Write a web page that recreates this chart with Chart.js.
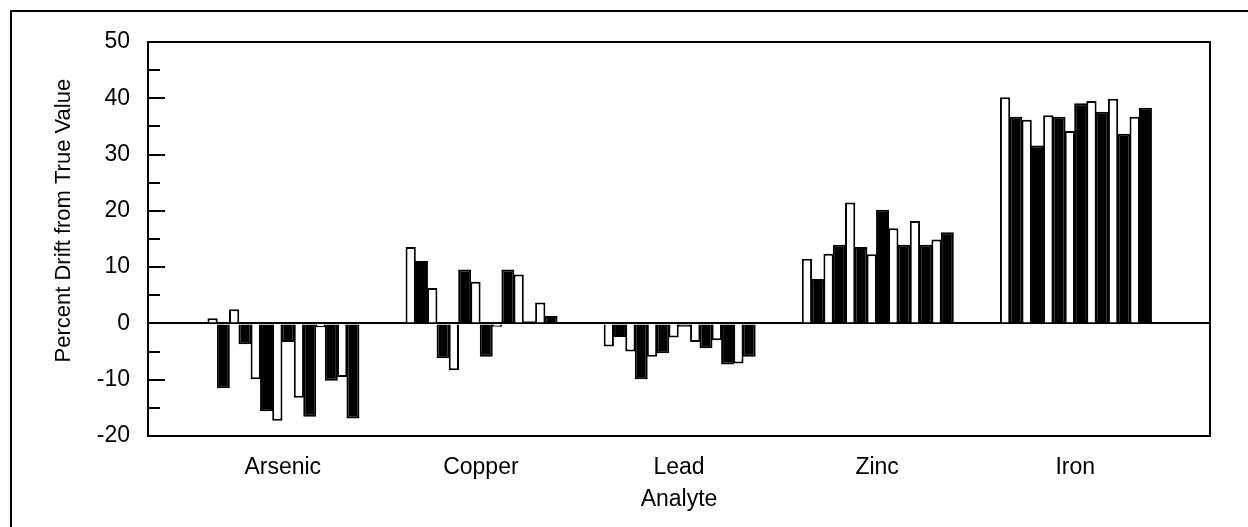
<!DOCTYPE html>
<html>
<head>
<meta charset="utf-8">
<script src="https://cdn.jsdelivr.net/npm/chart.js@4.4.1/dist/chart.umd.min.js"></script>
<style>
  html, body { margin: 0; padding: 0; background: #ffffff; }
  #wrap { position: relative; width: 1248px; height: 527px; overflow: hidden; background: #ffffff; }
  #outer { position: absolute; left: 10px; top: 10px; width: 1400px; height: 700px;
           border-left: 2px solid #000; border-top: 2px solid #000; }
  canvas { position: absolute; left: 0; top: 0; }
</style>
</head>
<body>
<div id="wrap">
  <div id="outer"></div>
  <canvas id="c" width="1248" height="527"></canvas>
</div>
<script>
// ---- data (percent drift, 14 runs per analyte, alternating open/filled bars) ----
const categories = ['Arsenic', 'Copper', 'Lead', 'Zinc', 'Iron'];
const arsenic = [0.9, -11.5, 2.5, -3.7, -9.9, -15.6, -17.3, -3.3, -13.2, -16.6, -0.7, -10.2, -9.5, -16.9];
const copper  = [13.6, 11.1, 6.3, -6.2, -8.3, 9.6, 7.4, -5.9, -0.6, 9.6, 8.7, 0.4, 3.7, 1.3];
const lead    = [-4.1, -2.4, -5.0, -9.9, -5.9, -5.3, -2.5, -0.6, -3.3, -4.4, -3.0, -7.3, -7.1, -5.9];
const zinc    = [11.5, 7.9, 12.4, 14.0, 21.5, 13.6, 12.3, 20.2, 16.9, 14.0, 18.2, 14.0, 14.9, 16.2];
const iron    = [40.2, 36.7, 36.2, 31.6, 37.0, 36.7, 34.2, 39.1, 39.5, 37.6, 39.9, 33.7, 36.7, 38.3];
const yMin = -20, yMax = 50, yStep = 5;
const yTitle = 'Percent Drift from True Value';
const xTitle = 'Analyte';

const groups = [arsenic, copper, lead, zinc, iron];
const runCount = arsenic.length;

Chart.defaults.font.family = '"Liberation Sans", Arial, Helvetica, sans-serif';
Chart.defaults.color = '#000';

const datasets = [];
for (let i = 0; i < runCount; i++) {
  const filled = i % 2 === 1;
  datasets.push({
    label: 'Run ' + (i + 1),
    data: groups.map((g, k) => ({ x: k + 1, y: g[i] })),
    backgroundColor: filled ? '#000000' : '#ffffff',
    borderColor: '#000000',
    borderWidth: 2,
    barPercentage: filled ? 1.2 : 0.95,
    categoryPercentage: 0.763
  });
}

const framePlugin = {
  id: 'framePlugin',
  afterDraw(chart) {
    const { ctx, chartArea: a, scales: { y } } = chart;
    ctx.save();
    ctx.strokeStyle = '#000';
    ctx.lineWidth = 2;
    ctx.strokeRect(a.left, a.top, a.right - a.left, a.bottom - a.top);
    y.ticks.forEach(t => {
      const py = Math.round(y.getPixelForValue(t.value));
      const len = (t.value % 10 === 0) ? 17 : 12;
      ctx.beginPath();
      ctx.moveTo(a.left, py);
      ctx.lineTo(a.left + len, py);
      ctx.stroke();
    });
    ctx.restore();
  }
};

new Chart(document.getElementById('c'), {
  type: 'bar',
  data: { datasets },
  plugins: [framePlugin],
  options: {
    responsive: false,
    animation: false,
    devicePixelRatio: 1,
    layout: { padding: { left: 0, top: 42, right: 38, bottom: 0 } },
    plugins: { legend: { display: false }, tooltip: { enabled: false } },
    scales: {
      x: {
        type: 'linear',
        offset: false,
        min: 0.32,
        max: 5.68,
        afterBuildTicks: s => { s.ticks = categories.map((c, i) => ({ value: i + 1 })); },
        afterFit: s => { s.height = 91; },
        grid: { display: false, drawTicks: false, offset: false },
        border: { display: false },
        ticks: {
          autoSkip: false,
          maxRotation: 0,
          padding: 18,
          font: { size: 23 },
          color: '#000',
          callback: v => categories[Math.round(v) - 1] || ''
        },
        title: {
          display: true,
          text: xTitle,
          font: { size: 23 },
          color: '#000',
          padding: { top: 0, bottom: 14 }
        }
      },
      y: {
        min: yMin,
        max: yMax,
        afterFit: s => { s.width = 148; },
        grid: {
          drawTicks: false,
          color: c => (c.tick && c.tick.value === 0) ? '#000' : 'rgba(0,0,0,0)',
          lineWidth: 2
        },
        border: { display: false },
        ticks: {
          stepSize: yStep,
          autoSkip: false,
          padding: 18,
          font: { size: 23 },
          color: '#000',
          callback: v => (v % 10 === 0 ? String(v) : '')
        },
        title: {
          display: true,
          text: '      ' + yTitle,
          font: { size: 22 },
          color: '#000',
          padding: { top: 51, bottom: 0 }
        }
      }
    }
  }
});
</script>
</body>
</html>
